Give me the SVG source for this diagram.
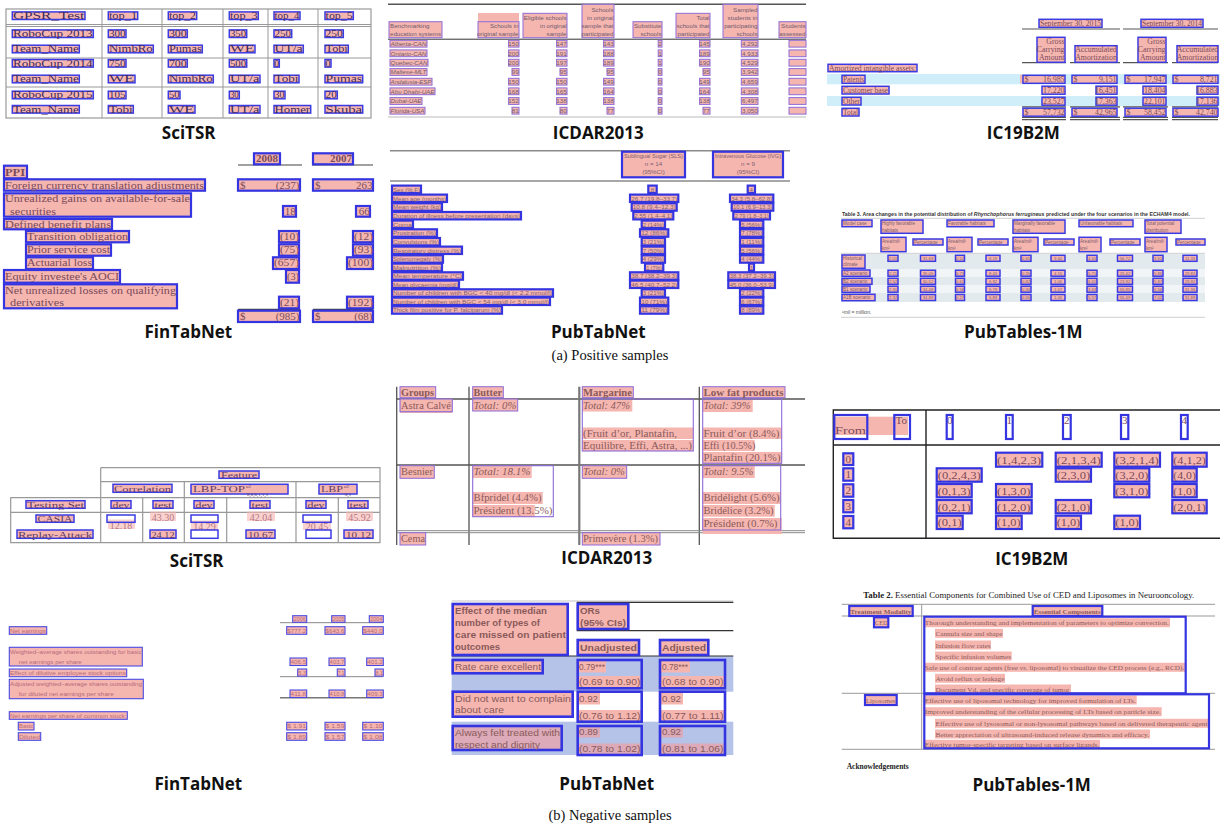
<svg xmlns="http://www.w3.org/2000/svg" width="1220" height="833" viewBox="0 0 1220 833">
<style>
.pk{fill:#f6b6b0}
.cb{fill:#f6b6b0;stroke:#3b3be3;stroke-width:1.5}
.cb2{fill:#f6b6b0;stroke:#3434e0;stroke-width:2.2}
.cf{fill:#f6b6b0;stroke:#4a4ae2;stroke-width:1.1}
.cp{fill:#f6b6b0;stroke:#8d6bd8;stroke-width:1}
.ob{fill:none;stroke:#3434e0;stroke-width:2.2}
.op{fill:none;stroke:#8d6bd8;stroke-width:1.1}
.wb{fill:#fff;stroke:#3b3be3;stroke-width:1.5}
.se{font-family:"Liberation Serif","Times New Roman",serif}
.sa{font-family:"Liberation Sans",Arial,sans-serif}
.lab{font-family:"Open Sans","Noto Sans",sans-serif;font-weight:bold;font-size:17px;fill:#111;text-anchor:middle}
.cap{font-family:"Liberation Serif","Times New Roman",serif;font-size:14.5px;fill:#111;text-anchor:middle}
.m{text-anchor:middle}
.e{text-anchor:end}
.i{font-style:italic}
.bd{font-weight:bold}
</style>
<rect width="1220" height="833" fill="#fff"/>

<!-- ===== (a) SciTSR ===== -->
<g id="pos-scitsr">
<rect x="6" y="9" width="365" height="109" fill="#fff" stroke="#999" stroke-width="1.2"/>
<path fill="none" stroke="#999" stroke-width="1" d="M6 24.5H371M6 26.5H371M6 58H371M6 87H371M102 9V118M162 9V118M223 9V118M268 9V118M318 9V118"/>
<g class="se" font-size="10.5" fill="#3e2a5e">
<rect class="cb" x="12.3" y="11.9" width="72.7" height="7.6"/><text x="12.9" y="19" textLength="71.5" lengthAdjust="spacingAndGlyphs">GPSR_Test</text>
<rect class="cb" x="108.3" y="11.9" width="29.4" height="7.6"/><text x="108.9" y="19" textLength="28.2" lengthAdjust="spacingAndGlyphs">top_1</text>
<rect class="cb" x="168.3" y="11.9" width="28.4" height="7.6"/><text x="168.9" y="19" textLength="27.2" lengthAdjust="spacingAndGlyphs">top_2</text>
<rect class="cb" x="229.3" y="11.9" width="29" height="7.6"/><text x="229.9" y="19" textLength="27.8" lengthAdjust="spacingAndGlyphs">top_3</text>
<rect class="cb" x="274" y="11.9" width="26" height="7.6"/><text x="274.6" y="19" textLength="24.8" lengthAdjust="spacingAndGlyphs">top_4</text>
<rect class="cb" x="325" y="11.9" width="28.3" height="7.6"/><text x="325.6" y="19" textLength="27.1" lengthAdjust="spacingAndGlyphs">top_5</text>

<rect class="cb" x="12.3" y="29.9" width="81" height="7.6"/><text x="12.9" y="37" textLength="79.8" lengthAdjust="spacingAndGlyphs">RoboCup 2013</text>
<rect class="cb" x="108.3" y="29.9" width="17.7" height="7.6"/><text x="108.9" y="37" textLength="16.5" lengthAdjust="spacingAndGlyphs">300</text>
<rect class="cb" x="168.3" y="29.9" width="19" height="7.6"/><text x="168.9" y="37" textLength="17.8" lengthAdjust="spacingAndGlyphs">300</text>
<rect class="cb" x="229.3" y="29.9" width="17.4" height="7.6"/><text x="229.9" y="37" textLength="16.2" lengthAdjust="spacingAndGlyphs">350</text>
<rect class="cb" x="274" y="29.9" width="17.7" height="7.6"/><text x="274.6" y="37" textLength="16.5" lengthAdjust="spacingAndGlyphs">250</text>
<rect class="cb" x="325" y="29.9" width="18.3" height="7.6"/><text x="325.6" y="37" textLength="17.1" lengthAdjust="spacingAndGlyphs">250</text>

<rect class="cb" x="12.3" y="45.2" width="67" height="7.6"/><text x="12.9" y="52.3" textLength="65.8" lengthAdjust="spacingAndGlyphs">Team_Name</text>
<rect class="cb" x="108.3" y="45.2" width="45" height="7.6"/><text x="108.9" y="52.3" textLength="43.8" lengthAdjust="spacingAndGlyphs">NimbRo</text>
<rect class="cb" x="168.3" y="45.2" width="34" height="7.6"/><text x="168.9" y="52.3" textLength="32.8" lengthAdjust="spacingAndGlyphs">Pumas</text>
<rect class="cb" x="229.3" y="45.2" width="25.7" height="7.6"/><text x="229.9" y="52.3" textLength="24.5" lengthAdjust="spacingAndGlyphs">WE</text>
<rect class="cb" x="274" y="45.2" width="29.3" height="7.6"/><text x="274.6" y="52.3" textLength="28.1" lengthAdjust="spacingAndGlyphs">UT/a</text>
<rect class="cb" x="325" y="45.2" width="23.3" height="7.6"/><text x="325.6" y="52.3" textLength="22.1" lengthAdjust="spacingAndGlyphs">Tobi</text>

<rect class="cb" x="12.3" y="59.5" width="81" height="7.6"/><text x="12.9" y="66.6" textLength="79.8" lengthAdjust="spacingAndGlyphs">RoboCup 2014</text>
<rect class="cb" x="108.3" y="59.5" width="17.7" height="7.6"/><text x="108.9" y="66.6" textLength="16.5" lengthAdjust="spacingAndGlyphs">750</text>
<rect class="cb" x="168.3" y="59.5" width="19" height="7.6"/><text x="168.9" y="66.6" textLength="17.8" lengthAdjust="spacingAndGlyphs">700</text>
<rect class="cb" x="229.3" y="59.5" width="17.4" height="7.6"/><text x="229.9" y="66.6" textLength="16.2" lengthAdjust="spacingAndGlyphs">500</text>
<rect class="cb" x="274" y="59.5" width="5.3" height="7.6"/><text x="274.4" y="66.6" textLength="4.5" lengthAdjust="spacingAndGlyphs">0</text>
<rect class="cb" x="325" y="59.5" width="6" height="7.6"/><text x="325.5" y="66.6" textLength="5" lengthAdjust="spacingAndGlyphs">0</text>

<rect class="cb" x="12.3" y="75.2" width="67" height="7.6"/><text x="12.9" y="82.3" textLength="65.8" lengthAdjust="spacingAndGlyphs">Team_Name</text>
<rect class="cb" x="108.3" y="75.2" width="26.7" height="7.6"/><text x="108.9" y="82.3" textLength="25.5" lengthAdjust="spacingAndGlyphs">WE</text>
<rect class="cb" x="168.3" y="75.2" width="45" height="7.6"/><text x="168.9" y="82.3" textLength="43.8" lengthAdjust="spacingAndGlyphs">NimbRo</text>
<rect class="cb" x="229.3" y="75.2" width="30.7" height="7.6"/><text x="229.9" y="82.3" textLength="29.5" lengthAdjust="spacingAndGlyphs">UT/a</text>
<rect class="cb" x="274" y="75.2" width="25" height="7.6"/><text x="274.6" y="82.3" textLength="23.8" lengthAdjust="spacingAndGlyphs">Tobi</text>
<rect class="cb" x="325" y="75.2" width="37.7" height="7.6"/><text x="325.6" y="82.3" textLength="36.5" lengthAdjust="spacingAndGlyphs">Pumas</text>

<rect class="cb" x="12.3" y="91.2" width="81" height="7.6"/><text x="12.9" y="98.3" textLength="79.8" lengthAdjust="spacingAndGlyphs">RoboCup 2015</text>
<rect class="cb" x="108.3" y="91.2" width="17.7" height="7.6"/><text x="108.9" y="98.3" textLength="16.5" lengthAdjust="spacingAndGlyphs">105</text>
<rect class="cb" x="168.3" y="91.2" width="11.7" height="7.6"/><text x="168.9" y="98.3" textLength="10.5" lengthAdjust="spacingAndGlyphs">50</text>
<rect class="cb" x="229.3" y="91.2" width="10" height="7.6"/><text x="229.9" y="98.3" textLength="8.8" lengthAdjust="spacingAndGlyphs">30</text>
<rect class="cb" x="274" y="91.2" width="11" height="7.6"/><text x="274.6" y="98.3" textLength="9.8" lengthAdjust="spacingAndGlyphs">30</text>
<rect class="cb" x="325" y="91.2" width="12.3" height="7.6"/><text x="325.6" y="98.3" textLength="11.1" lengthAdjust="spacingAndGlyphs">20</text>

<rect class="cb" x="12.3" y="105.5" width="67" height="7.6"/><text x="12.9" y="112.6" textLength="65.8" lengthAdjust="spacingAndGlyphs">Team_Name</text>
<rect class="cb" x="108.3" y="105.5" width="25" height="7.6"/><text x="108.9" y="112.6" textLength="23.8" lengthAdjust="spacingAndGlyphs">Tobi</text>
<rect class="cb" x="168.3" y="105.5" width="26.7" height="7.6"/><text x="168.9" y="112.6" textLength="25.5" lengthAdjust="spacingAndGlyphs">WE</text>
<rect class="cb" x="229.3" y="105.5" width="30.7" height="7.6"/><text x="229.9" y="112.6" textLength="29.5" lengthAdjust="spacingAndGlyphs">UT/a</text>
<rect class="cb" x="274" y="105.5" width="36.7" height="7.6"/><text x="274.6" y="112.6" textLength="35.5" lengthAdjust="spacingAndGlyphs">Homer</text>
<rect class="cb" x="325" y="105.5" width="37.7" height="7.6"/><text x="325.6" y="112.6" textLength="36.5" lengthAdjust="spacingAndGlyphs">Skuba</text>
</g>
</g>

<!-- ===== (a) ICDAR2013 ===== -->
<g id="pos-icdar2013">
<path d="M388 4.3H806" stroke="#555" stroke-width="1.6"/>
<path d="M388 39.2H806" stroke="#333" stroke-width="1"/>
<path d="M388 117H806" stroke="#bbb" stroke-width="1"/>
<g class="sa" font-size="6.2" fill="#6e5a6e">
<rect class="cp" x="389" y="21.7" width="53" height="16"/><text x="390" y="28">Benchmarking</text><text x="390" y="36.3" textLength="51" lengthAdjust="spacingAndGlyphs">education systems</text>
<rect class="pk" x="478" y="13" width="41" height="8.7"/>
<rect class="cp" x="478" y="21.7" width="41" height="16"/><text class="e" x="518.5" y="28">Schools in</text><text class="e" x="518.5" y="36.3">original sample</text>
<rect class="cp" x="523" y="13.3" width="44" height="24.4"/><text class="e" x="566.5" y="19.7">Eligible schools</text><text class="e" x="566.5" y="28">in original</text><text class="e" x="566.5" y="36.3">sample</text>
<rect class="cp" x="582" y="4.3" width="32" height="33.4"/><text class="e" x="613.5" y="11.5">Schools</text><text class="e" x="613.5" y="19.7">in original</text><text class="e" x="613.5" y="28">sample that</text><text class="e" x="613.5" y="36.3">participated</text>
<rect class="cp" x="633" y="21.7" width="29" height="16"/><text class="e" x="661.5" y="28">Substitute</text><text class="e" x="661.5" y="36.3">schools</text>
<rect class="cp" x="676" y="13.3" width="34" height="24.4"/><text class="e" x="709.5" y="19.7">Total</text><text class="e" x="709.5" y="28">schools that</text><text class="e" x="709.5" y="36.3">participated</text>
<rect class="cp" x="723" y="4.3" width="35" height="33.4"/><text class="e" x="757.5" y="11.5">Sampled</text><text class="e" x="757.5" y="19.7">students in</text><text class="e" x="757.5" y="28">participating</text><text class="e" x="757.5" y="36.3">schools</text>
<rect class="cp" x="779" y="21.7" width="27" height="16"/><text class="e" x="805.5" y="28">Students</text><text class="e" x="805.5" y="36.3">assessed</text>

<rect class="cp" x="390" y="40.3" width="37" height="6.8"/><text class="i" x="390.6" y="46" textLength="35.8" lengthAdjust="spacingAndGlyphs">Alberta-CAN</text>
<rect class="cp" x="390" y="49.9" width="37" height="6.8"/><text class="i" x="390.6" y="55.6" textLength="35.8" lengthAdjust="spacingAndGlyphs">Ontario-CAN</text>
<rect class="cp" x="390" y="59.3" width="38" height="6.8"/><text class="i" x="390.6" y="65" textLength="36.8" lengthAdjust="spacingAndGlyphs">Quebec-CAN</text>
<rect class="cp" x="390" y="68.6" width="37" height="6.8"/><text class="i" x="390.6" y="74.3" textLength="35.8" lengthAdjust="spacingAndGlyphs">Maltese-MLT</text>
<rect class="cp" x="390" y="78.3" width="42" height="6.8"/><text class="i" x="390.6" y="84" textLength="40.8" lengthAdjust="spacingAndGlyphs">Andalusia-ESP</text>
<rect class="cp" x="390" y="87.9" width="45" height="6.8"/><text class="i" x="390.6" y="93.6" textLength="43.8" lengthAdjust="spacingAndGlyphs">Abu Dhabi-UAE</text>
<rect class="cp" x="390" y="97.6" width="32" height="6.8"/><text class="i" x="390.6" y="103.3" textLength="30.8" lengthAdjust="spacingAndGlyphs">Dubai-UAE</text>
<rect class="cp" x="390" y="107.3" width="35" height="6.8"/><text class="i" x="390.6" y="113" textLength="33.8" lengthAdjust="spacingAndGlyphs">Florida-USA</text>

<rect class="cp" x="508.6" y="40.3" width="10.4" height="6.8"/><text class="e" x="518.6" y="46">150</text>
<rect class="cp" x="508.6" y="49.9" width="10.4" height="6.8"/><text class="e" x="518.6" y="55.6">200</text>
<rect class="cp" x="508.6" y="59.3" width="10.4" height="6.8"/><text class="e" x="518.6" y="65">200</text>
<rect class="cp" x="512" y="68.6" width="7" height="6.8"/><text class="e" x="518.6" y="74.3">99</text>
<rect class="cp" x="508.6" y="78.3" width="10.4" height="6.8"/><text class="e" x="518.6" y="84">150</text>
<rect class="cp" x="508.6" y="87.9" width="10.4" height="6.8"/><text class="e" x="518.6" y="93.6">168</text>
<rect class="cp" x="508.6" y="97.6" width="10.4" height="6.8"/><text class="e" x="518.6" y="103.3">152</text>
<rect class="cp" x="512" y="107.3" width="7" height="6.8"/><text class="e" x="518.6" y="113">81</text>

<rect class="cp" x="556.6" y="40.3" width="10.4" height="6.8"/><text class="e" x="566.6" y="46">147</text>
<rect class="cp" x="556.6" y="49.9" width="10.4" height="6.8"/><text class="e" x="566.6" y="55.6">191</text>
<rect class="cp" x="556.6" y="59.3" width="10.4" height="6.8"/><text class="e" x="566.6" y="65">197</text>
<rect class="cp" x="560" y="68.6" width="7" height="6.8"/><text class="e" x="566.6" y="74.3">95</text>
<rect class="cp" x="556.6" y="78.3" width="10.4" height="6.8"/><text class="e" x="566.6" y="84">150</text>
<rect class="cp" x="556.6" y="87.9" width="10.4" height="6.8"/><text class="e" x="566.6" y="93.6">165</text>
<rect class="cp" x="556.6" y="97.6" width="10.4" height="6.8"/><text class="e" x="566.6" y="103.3">138</text>
<rect class="cp" x="560" y="107.3" width="7" height="6.8"/><text class="e" x="566.6" y="113">80</text>

<rect class="cp" x="603.6" y="40.3" width="10.4" height="6.8"/><text class="e" x="613.6" y="46">143</text>
<rect class="cp" x="603.6" y="49.9" width="10.4" height="6.8"/><text class="e" x="613.6" y="55.6">188</text>
<rect class="cp" x="603.6" y="59.3" width="10.4" height="6.8"/><text class="e" x="613.6" y="65">189</text>
<rect class="cp" x="607" y="68.6" width="7" height="6.8"/><text class="e" x="613.6" y="74.3">95</text>
<rect class="cp" x="603.6" y="78.3" width="10.4" height="6.8"/><text class="e" x="613.6" y="84">149</text>
<rect class="cp" x="603.6" y="87.9" width="10.4" height="6.8"/><text class="e" x="613.6" y="93.6">164</text>
<rect class="cp" x="603.6" y="97.6" width="10.4" height="6.8"/><text class="e" x="613.6" y="103.3">138</text>
<rect class="cp" x="607" y="107.3" width="7" height="6.8"/><text class="e" x="613.6" y="113">77</text>

<rect class="cp" x="658.2" y="40.3" width="3.8" height="6.8"/><text class="e" x="661.8" y="46">2</text>
<rect class="cp" x="658.2" y="49.9" width="3.8" height="6.8"/><text class="e" x="661.8" y="55.6">1</text>
<rect class="cp" x="658.2" y="59.3" width="3.8" height="6.8"/><text class="e" x="661.8" y="65">1</text>
<rect class="cp" x="658.2" y="68.6" width="3.8" height="6.8"/><text class="e" x="661.8" y="74.3">0</text>
<rect class="cp" x="658.2" y="78.3" width="3.8" height="6.8"/><text class="e" x="661.8" y="84">0</text>
<rect class="cp" x="658.2" y="87.9" width="3.8" height="6.8"/><text class="e" x="661.8" y="93.6">0</text>
<rect class="cp" x="658.2" y="97.6" width="3.8" height="6.8"/><text class="e" x="661.8" y="103.3">0</text>
<rect class="cp" x="658.2" y="107.3" width="3.8" height="6.8"/><text class="e" x="661.8" y="113">0</text>

<rect class="cp" x="699.6" y="40.3" width="10.4" height="6.8"/><text class="e" x="709.6" y="46">145</text>
<rect class="cp" x="699.6" y="49.9" width="10.4" height="6.8"/><text class="e" x="709.6" y="55.6">189</text>
<rect class="cp" x="699.6" y="59.3" width="10.4" height="6.8"/><text class="e" x="709.6" y="65">190</text>
<rect class="cp" x="703" y="68.6" width="7" height="6.8"/><text class="e" x="709.6" y="74.3">95</text>
<rect class="cp" x="699.6" y="78.3" width="10.4" height="6.8"/><text class="e" x="709.6" y="84">149</text>
<rect class="cp" x="699.6" y="87.9" width="10.4" height="6.8"/><text class="e" x="709.6" y="93.6">164</text>
<rect class="cp" x="699.6" y="97.6" width="10.4" height="6.8"/><text class="e" x="709.6" y="103.3">138</text>
<rect class="cp" x="703" y="107.3" width="7" height="6.8"/><text class="e" x="709.6" y="113">77</text>

<rect class="cp" x="741.3" y="40.3" width="16.7" height="6.8"/><text class="e" x="757.6" y="46">4,292</text>
<rect class="cp" x="741.3" y="49.9" width="16.7" height="6.8"/><text class="e" x="757.6" y="55.6">4,933</text>
<rect class="cp" x="741.3" y="59.3" width="16.7" height="6.8"/><text class="e" x="757.6" y="65">4,529</text>
<rect class="cp" x="741.3" y="68.6" width="16.7" height="6.8"/><text class="e" x="757.6" y="74.3">3,942</text>
<rect class="cp" x="741.3" y="78.3" width="16.7" height="6.8"/><text class="e" x="757.6" y="84">4,659</text>
<rect class="cp" x="741.3" y="87.9" width="16.7" height="6.8"/><text class="e" x="757.6" y="93.6">4,308</text>
<rect class="cp" x="741.3" y="97.6" width="16.7" height="6.8"/><text class="e" x="757.6" y="103.3">6,497</text>
<rect class="cp" x="741.3" y="107.3" width="16.7" height="6.8"/><text class="e" x="757.6" y="113">3,050</text>

<rect class="cp" x="789" y="40.3" width="17" height="6.8"/>
<rect class="cp" x="789" y="49.9" width="17" height="6.8"/>
<rect class="cp" x="789" y="59.3" width="17" height="6.8"/>
<rect class="cp" x="789" y="68.6" width="17" height="6.8"/>
<rect class="cp" x="789" y="78.3" width="17" height="6.8"/>
<rect class="cp" x="789" y="87.9" width="17" height="6.8"/>
<rect class="cp" x="789" y="97.6" width="17" height="6.8"/>
<rect class="cp" x="789" y="107.3" width="17" height="6.8"/>
</g>
</g>

<!-- ===== (a) IC19B2M ===== -->
<g id="pos-ic19b2m">
<rect x="827" y="74" width="393" height="10.3" fill="#cfeefa"/>
<rect x="827" y="96" width="393" height="10" fill="#cfeefa"/>
<path fill="none" stroke="#555" stroke-width="1.2" d="M1022 29H1120M1123 29H1218M1022 62.7H1066M1070 62.7H1120M1123 62.7H1168M1172 62.7H1218M1022 106.8H1066M1070 106.8H1120M1123 106.8H1168M1172 106.8H1218M1022 117.4H1066M1070 117.4H1120M1123 117.4H1168M1172 117.4H1218M1022 119.6H1066M1070 119.6H1120M1123 119.6H1168M1172 119.6H1218"/>
<g class="se" font-size="7.8" fill="#7a4a5a">
<rect class="cb" x="1039" y="19.3" width="63" height="8"/><text class="m" x="1070.5" y="25.8" textLength="61" lengthAdjust="spacingAndGlyphs">September 30, 2015</text>
<rect class="cb" x="1141" y="19.3" width="62" height="8"/><text class="m" x="1172" y="25.8" textLength="60" lengthAdjust="spacingAndGlyphs">September 30, 2014</text>
<rect class="cb" x="1037" y="37.3" width="28" height="25"/><text class="e" x="1064.5" y="43.8">Gross</text><text class="e" x="1064.5" y="52">Carrying</text><text class="e" x="1064.5" y="60.2">Amount</text>
<rect class="cb" x="1075" y="45.7" width="42" height="16.6"/><text class="m" x="1096" y="52">Accumulated</text><text class="m" x="1096" y="60.2">Amortization</text>
<rect class="cb" x="1138" y="37.3" width="28" height="25"/><text class="e" x="1165.5" y="43.8">Gross</text><text class="e" x="1165.5" y="52">Carrying</text><text class="e" x="1165.5" y="60.2">Amount</text>
<rect class="cb" x="1177" y="45.7" width="41" height="16.6"/><text class="m" x="1197.5" y="52">Accumulated</text><text class="m" x="1197.5" y="60.2">Amortization</text>
<rect class="cb" x="828" y="64.3" width="89" height="7.4"/><text x="829" y="70.5" textLength="87" lengthAdjust="spacingAndGlyphs">Amortized intangible assets:</text>
<rect class="cb" x="842" y="75.3" width="23" height="8"/><text x="843" y="81.8" textLength="21" lengthAdjust="spacingAndGlyphs">Patents</text>
<rect class="cb" x="842" y="86.3" width="47" height="7.7"/><text x="843" y="92.6" textLength="45" lengthAdjust="spacingAndGlyphs">Customer base</text>
<rect class="cb" x="842" y="97.3" width="19" height="7.7"/><text x="843" y="103.6" textLength="17" lengthAdjust="spacingAndGlyphs">Other</text>
<rect class="cb" x="842" y="108.3" width="17" height="7.7"/><text x="843" y="114.6" textLength="15" lengthAdjust="spacingAndGlyphs">Total</text>

<rect class="pk" x="1020" y="74.8" width="5" height="8.5"/>
<rect class="cb" x="1023" y="75.3" width="42" height="8"/><text x="1024.5" y="81.8">$</text><text class="e" x="1064.5" y="81.8">16,985</text>
<rect class="cb" x="1072" y="75.3" width="45" height="8"/><text x="1073.5" y="81.8">$</text><text class="e" x="1116.5" y="81.8">9,151</text>
<rect class="cb" x="1125" y="75.3" width="41" height="8"/><text x="1126.5" y="81.8">$</text><text class="e" x="1165.5" y="81.8">17,947</text>
<rect class="cb" x="1173" y="75.3" width="45" height="8"/><text x="1174.5" y="81.8">$</text><text class="e" x="1217.5" y="81.8">8,721</text>

<rect class="cb" x="1042" y="86.2" width="23" height="8"/><text class="e" x="1064.5" y="92.7">17,220</text>
<rect class="cb" x="1096" y="86.2" width="21" height="8"/><text class="e" x="1116.5" y="92.7">16,451</text>
<rect class="cb" x="1143" y="86.2" width="23" height="8"/><text class="e" x="1165.5" y="92.7">18,404</text>
<rect class="cb" x="1197" y="86.2" width="21" height="8"/><text class="e" x="1217.5" y="92.7">16,883</text>

<rect class="cb" x="1042" y="97.2" width="23" height="8"/><text class="e" x="1064.5" y="103.7">23,527</text>
<rect class="cb" x="1096" y="97.2" width="21" height="8"/><text class="e" x="1116.5" y="103.7">17,363</text>
<rect class="cb" x="1143" y="97.2" width="23" height="8"/><text class="e" x="1165.5" y="103.7">22,101</text>
<rect class="cb" x="1197" y="97.2" width="21" height="8"/><text class="e" x="1217.5" y="103.7">17,136</text>

<rect class="cb" x="1023" y="108.2" width="42" height="8"/><text x="1024.5" y="114.7">$</text><text class="e" x="1064.5" y="114.7">57,732</text>
<rect class="cb" x="1072" y="108.2" width="45" height="8"/><text x="1073.5" y="114.7">$</text><text class="e" x="1116.5" y="114.7">42,965</text>
<rect class="cb" x="1125" y="108.2" width="41" height="8"/><text x="1126.5" y="114.7">$</text><text class="e" x="1165.5" y="114.7">58,452</text>
<rect class="cb" x="1173" y="108.2" width="45" height="8"/><text x="1174.5" y="114.7">$</text><text class="e" x="1217.5" y="114.7">42,740</text>
</g>
</g>

<!-- ===== (a) FinTabNet ===== -->
<g id="pos-fintabnet">
<path fill="none" stroke="#444" stroke-width="1.2" d="M238 165H302M312 165H373M238 309.3H300M313 309.3H373"/>
<g class="se" font-size="11" fill="#7a4a5a">
<rect class="cb2" x="254" y="153.3" width="26" height="11"/><text class="m bd" x="267" y="162.3" textLength="22" lengthAdjust="spacingAndGlyphs">2008</text>
<rect class="cb2" x="313" y="153.3" width="40" height="11"/><text class="e bd" x="352" y="162.3" textLength="22" lengthAdjust="spacingAndGlyphs">2007</text>
<rect class="cb2" x="4" y="165.7" width="23" height="12.6"/><text class="bd" x="5" y="176" textLength="20" lengthAdjust="spacingAndGlyphs">PPI</text>
<rect class="cb2" x="4" y="179.3" width="201" height="11.4"/><text x="5" y="188.6" textLength="199" lengthAdjust="spacingAndGlyphs">Foreign currency translation adjustments</text>
<rect class="cb2" x="4" y="193.3" width="187" height="23.4"/><text x="5" y="202" textLength="185" lengthAdjust="spacingAndGlyphs">Unrealized gains on available-for-sale</text><text x="10" y="214.5" textLength="46" lengthAdjust="spacingAndGlyphs">securities</text>
<rect class="cb2" x="4" y="219" width="108" height="10.3"/><text x="5" y="227.6" textLength="106" lengthAdjust="spacingAndGlyphs">Defined benefit plans</text>
<rect class="cb2" x="26" y="231" width="103" height="11.3"/><text x="27" y="240.2" textLength="101" lengthAdjust="spacingAndGlyphs">Transition obligation</text>
<rect class="cb2" x="26" y="244.3" width="85" height="11.4"/><text x="27" y="253.3" textLength="83" lengthAdjust="spacingAndGlyphs">Prior service cost</text>
<rect class="cb2" x="26" y="257.3" width="67" height="11.7"/><text x="27" y="266.4" textLength="65" lengthAdjust="spacingAndGlyphs">Actuarial loss</text>
<rect class="cb2" x="4" y="270" width="116" height="12.7"/><text x="5" y="279.8" textLength="114" lengthAdjust="spacingAndGlyphs">Equity investee's AOCI</text>
<rect class="cb2" x="4" y="284.3" width="173" height="24"/><text x="5" y="293.5" textLength="171" lengthAdjust="spacingAndGlyphs">Net unrealized losses on qualifying</text><text x="10" y="306" textLength="54" lengthAdjust="spacingAndGlyphs">derivatives</text>

<rect class="cb2" x="238" y="179.3" width="62" height="11.4"/><text x="240" y="188.6">$</text><text class="e" x="299.5" y="188.6">(237)</text>
<rect class="cb2" x="313" y="179.3" width="60" height="11.4"/><text x="315" y="188.6">$</text><text class="e" x="372.5" y="188.6">263</text>
<rect class="cb2" x="283" y="206" width="13" height="10.7"/><text class="e" x="295.8" y="214.6">18</text>
<rect class="cb2" x="356" y="206" width="14" height="10.7"/><text class="e" x="369.8" y="214.6">66</text>
<rect class="cb2" x="279" y="231" width="20" height="11.3"/><text class="e" x="299" y="240.2" textLength="19" lengthAdjust="spacingAndGlyphs">(10)</text>
<rect class="cb2" x="353" y="231" width="20" height="11.3"/><text class="e" x="373" y="240.2" textLength="19" lengthAdjust="spacingAndGlyphs">(12)</text>
<rect class="cb2" x="279" y="244.3" width="20" height="11.4"/><text class="e" x="299" y="253.3" textLength="19" lengthAdjust="spacingAndGlyphs">(75)</text>
<rect class="cb2" x="353" y="244.3" width="20" height="11.4"/><text class="e" x="373" y="253.3" textLength="19" lengthAdjust="spacingAndGlyphs">(93)</text>
<rect class="cb2" x="273" y="257.3" width="26" height="11.7"/><text class="e" x="299" y="266.4" textLength="25" lengthAdjust="spacingAndGlyphs">(657)</text>
<rect class="cb2" x="347" y="257.3" width="26" height="11.7"/><text class="e" x="373" y="266.4" textLength="25" lengthAdjust="spacingAndGlyphs">(100)</text>
<rect class="cb2" x="286" y="270" width="13" height="12.7"/><text class="e" x="299" y="279.8" textLength="12" lengthAdjust="spacingAndGlyphs">(3)</text>
<rect class="cb2" x="279" y="296.7" width="20" height="11.6"/><text class="e" x="299" y="306" textLength="19" lengthAdjust="spacingAndGlyphs">(21)</text>
<rect class="cb2" x="347" y="296.7" width="26" height="11.6"/><text class="e" x="373" y="306" textLength="25" lengthAdjust="spacingAndGlyphs">(192)</text>
<rect class="cb2" x="238" y="310.7" width="62" height="11.3"/><text x="240" y="319.8">$</text><text class="e" x="299.5" y="319.8">(985)</text>
<rect class="cb2" x="313" y="310.7" width="60" height="11.3"/><text x="315" y="319.8">$</text><text class="e" x="372.5" y="319.8">(68)</text>
</g>
</g>

<!-- ===== (a) PubTabNet ===== -->
<g id="pos-pubtabnet">
<path fill="none" stroke="#8a8a8a" stroke-width="1.6" d="M390 150.7H790M390 181H790"/>
<g class="sa" font-size="6.2" fill="#806070">
<rect class="cb2" x="622" y="151.7" width="63" height="25.6"/><text class="m" x="653.5" y="157.8" textLength="59" lengthAdjust="spacingAndGlyphs">Sublingual Sugar (SLS)</text><text class="m" x="653.5" y="165.5">n = 14</text><text class="m" x="653.5" y="173.5">(95%CI)</text>
<rect class="cb2" x="713" y="151.7" width="70" height="25.6"/><text class="m" x="748" y="157.8" textLength="66" lengthAdjust="spacingAndGlyphs">Intravenous Glucose (IVG)</text><text class="m" x="748" y="165.5">n = 9</text><text class="m" x="748" y="173.5">(95%CI)</text>

<rect class="cb2" x="392" y="185.6" width="29" height="7.4"/><text x="393" y="191.5" textLength="27" lengthAdjust="spacingAndGlyphs">Sex (% F)</text>
<rect class="cb2" x="392" y="194.6" width="55" height="7.4"/><text x="393" y="200.5" textLength="53" lengthAdjust="spacingAndGlyphs">Mean age (months)</text>
<rect class="cb2" x="392" y="203.3" width="50" height="7.4"/><text x="393" y="209.2" textLength="48" lengthAdjust="spacingAndGlyphs">Mean weight (kg)</text>
<rect class="cb2" x="392" y="212" width="129" height="7.4"/><text x="393" y="217.9" textLength="127" lengthAdjust="spacingAndGlyphs">Duration of illness before presentation (days)</text>
<rect class="cb2" x="392" y="220.6" width="21" height="7.4"/><text x="393" y="226.5" textLength="19" lengthAdjust="spacingAndGlyphs">Coma</text>
<rect class="cb2" x="392" y="229.3" width="45" height="7.4"/><text x="393" y="235.2" textLength="43" lengthAdjust="spacingAndGlyphs">Prostration (%)</text>
<rect class="cb2" x="392" y="238" width="48" height="7.4"/><text x="393" y="243.9" textLength="46" lengthAdjust="spacingAndGlyphs">Convulsions (%)</text>
<rect class="cb2" x="392" y="246.6" width="70" height="7.4"/><text x="393" y="252.5" textLength="68" lengthAdjust="spacingAndGlyphs">Respiratory distress (%)</text>
<rect class="cb2" x="392" y="255.3" width="51" height="7.4"/><text x="393" y="261.2" textLength="49" lengthAdjust="spacingAndGlyphs">Splenomegaly (%)</text>
<rect class="cb2" x="392" y="263.6" width="50" height="7.4"/><text x="393" y="269.5" textLength="48" lengthAdjust="spacingAndGlyphs">Malnutrition (%)</text>
<rect class="cb2" x="392" y="272.3" width="71" height="7.4"/><text x="393" y="278.2" textLength="69" lengthAdjust="spacingAndGlyphs">Mean temperature (°C)</text>
<rect class="cb2" x="392" y="280.6" width="67" height="7.4"/><text x="393" y="286.5" textLength="65" lengthAdjust="spacingAndGlyphs">Mean glycaemia (mg/dl)</text>
<rect class="cb2" x="392" y="289.3" width="161" height="7.4"/><text x="393" y="295.2" textLength="159" lengthAdjust="spacingAndGlyphs">Number of children with BGC &lt; 40 mg/dl (&lt; 2.2 mmol/l)</text>
<rect class="cb2" x="392" y="297.6" width="158" height="7.4"/><text x="393" y="303.5" textLength="156" lengthAdjust="spacingAndGlyphs">Number of children with BGC &lt; 54 mg/dl (&lt; 3.0 mmol/l)</text>
<rect class="cb2" x="392" y="306.3" width="110" height="7.4"/><text x="393" y="312.2" textLength="108" lengthAdjust="spacingAndGlyphs">Thick film positive for P. falciparum (%)</text>

<rect class="cb2" x="648.3" y="185.6" width="8.4" height="7.4"/><text class="m" x="652.5" y="191.5">8</text>
<rect class="cb2" x="630" y="194.6" width="48.3" height="7.4"/><text class="m" x="654.2" y="200.5" textLength="46" lengthAdjust="spacingAndGlyphs">26.7 (19.8–33.7)</text>
<rect class="cb2" x="631.7" y="203.3" width="45" height="7.4"/><text class="m" x="654.2" y="209.2" textLength="43" lengthAdjust="spacingAndGlyphs">10.8 (9.4–12.3)</text>
<rect class="cb2" x="633.3" y="212" width="40" height="7.4"/><text class="m" x="653.3" y="217.9" textLength="38" lengthAdjust="spacingAndGlyphs">2.55 (1.4–4.1)</text>
<rect class="cb2" x="641.7" y="220.6" width="23.3" height="7.4"/><text class="m" x="653.3" y="226.5" textLength="21" lengthAdjust="spacingAndGlyphs">2 (14%)</text>
<rect class="cb2" x="640" y="229.3" width="28.3" height="7.4"/><text class="m" x="654.2" y="235.2" textLength="26" lengthAdjust="spacingAndGlyphs">12 (86%)</text>
<rect class="cb2" x="641.7" y="238" width="23.3" height="7.4"/><text class="m" x="653.3" y="243.9" textLength="21" lengthAdjust="spacingAndGlyphs">3 (21%)</text>
<rect class="cb2" x="641.7" y="246.6" width="23.3" height="7.4"/><text class="m" x="653.3" y="252.5" textLength="21" lengthAdjust="spacingAndGlyphs">7 (50%)</text>
<rect class="cb2" x="641.7" y="255.3" width="23.3" height="7.4"/><text class="m" x="653.3" y="261.2" textLength="21" lengthAdjust="spacingAndGlyphs">4 (29%)</text>
<rect class="cb2" x="645" y="263.6" width="18.3" height="7.4"/><text class="m" x="654.2" y="269.5" textLength="16" lengthAdjust="spacingAndGlyphs">1 (7%)</text>
<rect class="cb2" x="630" y="272.3" width="48.3" height="7.4"/><text class="m" x="654.2" y="278.2" textLength="46" lengthAdjust="spacingAndGlyphs">38.7 (38.2–39.3)</text>
<rect class="cb2" x="630" y="280.6" width="48.3" height="7.4"/><text class="m" x="654.2" y="286.5" textLength="46" lengthAdjust="spacingAndGlyphs">46.5 (40.7–52.2)</text>
<rect class="cb2" x="641.7" y="289.3" width="23.3" height="7.4"/><text class="m" x="653.3" y="295.2" textLength="21" lengthAdjust="spacingAndGlyphs">3 (21%)</text>
<rect class="cb2" x="640" y="297.6" width="28.3" height="7.4"/><text class="m" x="654.2" y="303.5" textLength="26" lengthAdjust="spacingAndGlyphs">10 (71%)</text>
<rect class="cb2" x="640" y="306.3" width="28.3" height="7.4"/><text class="m" x="654.2" y="312.2" textLength="26" lengthAdjust="spacingAndGlyphs">11 (79%)</text>

<rect class="cb2" x="747.7" y="185.6" width="7.3" height="7.4"/><text class="m" x="751.3" y="191.5">4</text>
<rect class="cb2" x="730" y="194.6" width="43.3" height="7.4"/><text class="m" x="751.7" y="200.5" textLength="41" lengthAdjust="spacingAndGlyphs">34.3 (5.8–62.8)</text>
<rect class="cb2" x="731.7" y="203.3" width="41.6" height="7.4"/><text class="m" x="752.5" y="209.2" textLength="39" lengthAdjust="spacingAndGlyphs">10.1 (6.9–13.3)</text>
<rect class="cb2" x="733.3" y="212" width="36.7" height="7.4"/><text class="m" x="751.7" y="217.9" textLength="34" lengthAdjust="spacingAndGlyphs">2.79 (1.8–3.1)</text>
<rect class="cb2" x="740" y="220.6" width="23.3" height="7.4"/><text class="m" x="751.7" y="226.5" textLength="21" lengthAdjust="spacingAndGlyphs">5 (56%)</text>
<rect class="cb2" x="740" y="229.3" width="23.3" height="7.4"/><text class="m" x="751.7" y="235.2" textLength="21" lengthAdjust="spacingAndGlyphs">7 (78%)</text>
<rect class="cb2" x="740" y="238" width="23.3" height="7.4"/><text class="m" x="751.7" y="243.9" textLength="21" lengthAdjust="spacingAndGlyphs">1 (11%)</text>
<rect class="cb2" x="740" y="246.6" width="23.3" height="7.4"/><text class="m" x="751.7" y="252.5" textLength="21" lengthAdjust="spacingAndGlyphs">5 (56%)</text>
<rect class="cb2" x="740" y="255.3" width="23.3" height="7.4"/><text class="m" x="751.7" y="261.2" textLength="21" lengthAdjust="spacingAndGlyphs">4 (44%)</text>
<rect class="cb2" x="749" y="263.6" width="5" height="7.4"/><text class="m" x="751.5" y="269.5">1</text>
<rect class="cb2" x="728.3" y="272.3" width="46.7" height="7.4"/><text class="m" x="751.7" y="278.2" textLength="44" lengthAdjust="spacingAndGlyphs">38.3 (37.2–39.3)</text>
<rect class="cb2" x="728.3" y="280.6" width="46.7" height="7.4"/><text class="m" x="751.7" y="286.5" textLength="44" lengthAdjust="spacingAndGlyphs">45.0 (36.0–53.9)</text>
<rect class="cb2" x="740" y="289.3" width="23.3" height="7.4"/><text class="m" x="751.7" y="295.2" textLength="21" lengthAdjust="spacingAndGlyphs">2 (22%)</text>
<rect class="cb2" x="740" y="297.6" width="23.3" height="7.4"/><text class="m" x="751.7" y="303.5" textLength="21" lengthAdjust="spacingAndGlyphs">6 (67%)</text>
<rect class="cb2" x="740" y="306.3" width="23.3" height="7.4"/><text class="m" x="751.7" y="312.2" textLength="21" lengthAdjust="spacingAndGlyphs">8 (89%)</text>
</g>
</g>

<!-- ===== (a) PubTables-1M ===== -->
<g id="pos-pubtables1m">
<rect x="841" y="254" width="364" height="15" fill="#e3eaee"/>
<rect x="841" y="269" width="364" height="8" fill="#f2f5f7"/>
<rect x="841" y="277" width="364" height="8" fill="#e3eaee"/>
<rect x="841" y="285" width="364" height="8" fill="#f2f5f7"/>
<rect x="841" y="293" width="364" height="9" fill="#e3eaee"/>
<path fill="none" stroke="#cfcfcf" stroke-width="1" d="M841 218.3H1205M841 253.3H1205M841 317.3H1205"/>
<text class="sa bd" x="842" y="215.5" font-size="5.3" fill="#333" textLength="348" lengthAdjust="spacingAndGlyphs">Table 3.  Area changes in the potential distribution of <tspan font-style="italic">Rhynchophorus ferrugineus</tspan> predicted under the four scenarios in the ECHAM4 model.</text>
<g class="sa" font-size="4.6" fill="#7a5a6a">
<rect class="cb" x="842" y="220" width="30" height="6.7"/><text x="843" y="225.2">Model case</text>
<rect class="cb" x="881" y="220" width="42" height="13.3"/><text x="882" y="225.2">Highly favorable</text><text x="882" y="231.7">habitats</text>
<rect class="cb" x="947" y="220" width="47" height="6.7"/><text x="948" y="225.2">Favorable habitats</text>
<rect class="cb" x="1013" y="220" width="52" height="13.3"/><text x="1014" y="225.2">Marginally favorable</text><text x="1014" y="231.7">habitats</text>
<rect class="cb" x="1079" y="220" width="54" height="6.7"/><text x="1080" y="225.2">Unfavorable habitats</text>
<rect class="cb" x="1145" y="220" width="36" height="13.3"/><text x="1146" y="225.2">Total potential</text><text x="1146" y="231.7">distribution</text>

<rect class="cb" x="881" y="237.3" width="25" height="14.4"/><text x="882" y="242.5">Area/mil¹</text><text x="882" y="249.5">km²</text>
<rect class="cb" x="947" y="237.3" width="25" height="14.4"/><text x="948" y="242.5">Area/mil¹</text><text x="948" y="249.5">km²</text>
<rect class="cb" x="1013" y="237.3" width="25" height="14.4"/><text x="1014" y="242.5">Area/mil¹</text><text x="1014" y="249.5">km²</text>
<rect class="cb" x="1079" y="237.3" width="22" height="14.4"/><text x="1080" y="242.5">Area/mil¹</text><text x="1080" y="249.5">km²</text>
<rect class="cb" x="1145" y="237.3" width="22" height="14.4"/><text x="1146" y="242.5">Area/mil¹</text><text x="1146" y="249.5">km²</text>
<rect class="cb" x="913" y="239" width="30" height="6"/><text x="914" y="243.8">Percentage</text>
<rect class="cb" x="978" y="239" width="30" height="6"/><text x="979" y="243.8">Percentage</text>
<rect class="cb" x="1044" y="239" width="30" height="6"/><text x="1045" y="243.8">Percentage</text>
<rect class="cb" x="1110" y="239" width="30" height="6"/><text x="1111" y="243.8">Percentage</text>
<rect class="cb" x="1176" y="239" width="29" height="6"/><text x="1177" y="243.8">Percentage</text>

<rect class="cb" x="842" y="255" width="23" height="13.3"/><text x="843" y="259.8">Historical</text><text x="843" y="266.3">climate</text>
<rect class="cb" x="842" y="270" width="28" height="6.3"/><text x="843" y="275">A2 scenario</text>
<rect class="cb" x="842" y="278.3" width="30" height="6"/><text x="843" y="283">B2 scenario</text>
<rect class="cb" x="842" y="286" width="28" height="6.3"/><text x="843" y="291">B1 scenario</text>
<rect class="cb" x="842" y="294.3" width="33" height="6.4"/><text x="843" y="299.3">A1B scenario</text>
</g>
<g class="sa m" font-size="4.2" fill="#7a5a6a">
<rect class="cb" x="888" y="255.3" width="10" height="6"/><text x="893" y="260">2.01</text>
<rect class="cb" x="920.5" y="255.3" width="15" height="6"/><text x="928" y="260">31.69</text>
<rect class="cb" x="955.5" y="255.3" width="9" height="6"/><text x="960" y="260">0.52</text>
<rect class="cb" x="986" y="255.3" width="14" height="6"/><text x="993" y="260">8.19</text>
<rect class="cb" x="1021" y="255.3" width="10" height="6"/><text x="1026" y="260">0.65</text>
<rect class="cb" x="1051" y="255.3" width="14" height="6"/><text x="1058" y="260">9.40</text>
<rect class="cb" x="1087" y="255.3" width="10" height="6"/><text x="1092" y="260">4.65</text>
<rect class="cb" x="1117.5" y="255.3" width="15" height="6"/><text x="1125" y="260">56.72</text>
<rect class="cb" x="1153" y="255.3" width="10" height="6"/><text x="1158" y="260">3.61</text>
<rect class="cb" x="1183" y="255.3" width="14" height="6"/><text x="1190" y="260">11.33</text>

<rect class="cb" x="888" y="270.2" width="10" height="6"/><text x="893" y="274.9">2.21</text>
<rect class="cb" x="920.5" y="270.2" width="15" height="6"/><text x="928" y="274.9">35.05</text>
<rect class="cb" x="955.5" y="270.2" width="9" height="6"/><text x="960" y="274.9">0.73</text>
<rect class="cb" x="986" y="270.2" width="14" height="6"/><text x="993" y="274.9">8.43</text>
<rect class="cb" x="1021" y="270.2" width="10" height="6"/><text x="1026" y="274.9">0.35</text>
<rect class="cb" x="1051" y="270.2" width="14" height="6"/><text x="1058" y="274.9">4.15</text>
<rect class="cb" x="1087" y="270.2" width="10" height="6"/><text x="1092" y="274.9">5.71</text>
<rect class="cb" x="1117.5" y="270.2" width="15" height="6"/><text x="1125" y="274.9">25.42</text>
<rect class="cb" x="1153" y="270.2" width="10" height="6"/><text x="1158" y="274.9">5.86</text>
<rect class="cb" x="1183" y="270.2" width="14" height="6"/><text x="1190" y="274.9">29.83</text>

<rect class="cb" x="888" y="278.3" width="10" height="6"/><text x="893" y="283">2.52</text>
<rect class="cb" x="920.5" y="278.3" width="15" height="6"/><text x="928" y="283">30.52</text>
<rect class="cb" x="955.5" y="278.3" width="9" height="6"/><text x="960" y="283">0.61</text>
<rect class="cb" x="986" y="278.3" width="14" height="6"/><text x="993" y="283">6.92</text>
<rect class="cb" x="1021" y="278.3" width="10" height="6"/><text x="1026" y="283">0.82</text>
<rect class="cb" x="1051" y="278.3" width="14" height="6"/><text x="1058" y="283">1.06</text>
<rect class="cb" x="1087" y="278.3" width="10" height="6"/><text x="1092" y="283">6.61</text>
<rect class="cb" x="1117.5" y="278.3" width="15" height="6"/><text x="1125" y="283">23.92</text>
<rect class="cb" x="1153" y="278.3" width="10" height="6"/><text x="1158" y="283">5.87</text>
<rect class="cb" x="1183" y="278.3" width="14" height="6"/><text x="1190" y="283">29.92</text>

<rect class="cb" x="888" y="286.2" width="10" height="6"/><text x="893" y="290.9">2.30</text>
<rect class="cb" x="920.5" y="286.2" width="15" height="6"/><text x="928" y="290.9">34.48</text>
<rect class="cb" x="955.5" y="286.2" width="9" height="6"/><text x="960" y="290.9">0.58</text>
<rect class="cb" x="986" y="286.2" width="14" height="6"/><text x="993" y="290.9">6.79</text>
<rect class="cb" x="1021" y="286.2" width="10" height="6"/><text x="1026" y="290.9">0.30</text>
<rect class="cb" x="1051" y="286.2" width="14" height="6"/><text x="1058" y="290.9">1.07</text>
<rect class="cb" x="1087" y="286.2" width="10" height="6"/><text x="1092" y="290.9">3.63</text>
<rect class="cb" x="1117.5" y="286.2" width="15" height="6"/><text x="1125" y="290.9">55.85</text>
<rect class="cb" x="1153" y="286.2" width="10" height="6"/><text x="1158" y="290.9">6.56</text>
<rect class="cb" x="1183" y="286.2" width="14" height="6"/><text x="1190" y="290.9">31.36</text>

<rect class="cb" x="888" y="294.5" width="10" height="6"/><text x="893" y="299.2">2.32</text>
<rect class="cb" x="920.5" y="294.5" width="15" height="6"/><text x="928" y="299.2">34.89</text>
<rect class="cb" x="955.5" y="294.5" width="9" height="6"/><text x="960" y="299.2">0.27</text>
<rect class="cb" x="986" y="294.5" width="14" height="6"/><text x="993" y="299.2">5.89</text>
<rect class="cb" x="1021" y="294.5" width="10" height="6"/><text x="1026" y="299.2">0.65</text>
<rect class="cb" x="1051" y="294.5" width="14" height="6"/><text x="1058" y="299.2">1.05</text>
<rect class="cb" x="1087" y="294.5" width="10" height="6"/><text x="1092" y="299.2">5.57</text>
<rect class="cb" x="1117.5" y="294.5" width="15" height="6"/><text x="1125" y="299.2">55.49</text>
<rect class="cb" x="1153" y="294.5" width="10" height="6"/><text x="1158" y="299.2">7.02</text>
<rect class="cb" x="1183" y="294.5" width="14" height="6"/><text x="1190" y="299.2">31.89</text>
</g>
<text class="sa" x="842" y="314" font-size="5" fill="#555">¹mil = million.</text>
</g>

<!-- ===== (b) SciTSR ===== -->
<g id="neg-scitsr">
<path fill="none" stroke="#999" stroke-width="1.2" d="M100.7 467.7H380V542.7H10.7V497.7H380M100.7 467.7V542.7M100.7 481.7H380M184.3 481.7V542.7M296 481.7V542.7M142.7 497.7V542.7M226.7 497.7V542.7M338.3 497.7V542.7M10.7 512.3H380"/>
<g class="se" font-size="9" fill="#5e3a66">
<rect class="cb" x="219" y="471" width="40" height="7.3"/><text class="m" x="239" y="477.8" textLength="36" lengthAdjust="spacingAndGlyphs">Feature</text>
<rect class="cb" x="113" y="484.3" width="59" height="8"/><text x="114" y="492" textLength="57" lengthAdjust="spacingAndGlyphs">Correlation</text>
<rect class="cb" x="191" y="484.3" width="97" height="9.7"/><text x="193" y="492" textLength="52" lengthAdjust="spacingAndGlyphs">LBP-TOP</text><text x="246" y="488" font-size="5">u2</text><text x="247" y="495.5" font-size="5">8,8,8,1,1,1</text>
<rect class="cb" x="319" y="484.3" width="38" height="9.7"/><text x="321" y="492" textLength="22" lengthAdjust="spacingAndGlyphs">LBP</text><text x="344" y="488" font-size="5">u2</text><text x="345" y="495.5" font-size="5">8,1</text>
<rect class="cb" x="26" y="500.7" width="59" height="7.6"/><text x="27" y="508" textLength="57" lengthAdjust="spacingAndGlyphs">Testing Set</text>
<rect class="cb" x="111" y="500.7" width="20" height="7.6"/><text class="m" x="121" y="508" textLength="17" lengthAdjust="spacingAndGlyphs">dev</text>
<rect class="cb" x="153" y="500.7" width="20" height="7.6"/><text class="m" x="163" y="508" textLength="17" lengthAdjust="spacingAndGlyphs">test</text>
<rect class="cb" x="194" y="500.7" width="20" height="7.6"/><text class="m" x="204" y="508" textLength="17" lengthAdjust="spacingAndGlyphs">dev</text>
<rect class="cb" x="250" y="500.7" width="20" height="7.6"/><text class="m" x="260" y="508" textLength="17" lengthAdjust="spacingAndGlyphs">test</text>
<rect class="cb" x="306" y="500.7" width="20" height="7.6"/><text class="m" x="316" y="508" textLength="17" lengthAdjust="spacingAndGlyphs">dev</text>
<rect class="cb" x="348" y="500.7" width="20" height="7.6"/><text class="m" x="358" y="508" textLength="17" lengthAdjust="spacingAndGlyphs">test</text>
<rect class="cb" x="36" y="515" width="38" height="7.3"/><text class="m" x="55" y="522" textLength="35" lengthAdjust="spacingAndGlyphs">CASIA</text>
<rect class="cb" x="17" y="530" width="76" height="8.3"/><text x="18" y="537.6" textLength="74" lengthAdjust="spacingAndGlyphs">Replay-Attack</text>
</g>
<g class="se m" font-size="10" fill="#b87682">
<rect class="pk" x="108" y="519.5" width="27" height="9.5" opacity=".6"/><text x="121" y="528.5">12.18</text>
<rect class="pk" x="150" y="511.5" width="26" height="9.5" opacity=".6"/><text x="163" y="520.5">43.30</text>
<rect class="pk" x="191" y="520.5" width="27" height="9.5" opacity=".6"/><text x="204.5" y="529.5">14.29</text>
<rect class="pk" x="247" y="511.5" width="28" height="9.5" opacity=".6"/><text x="261" y="520.5">42.04</text>
<rect class="pk" x="303" y="520.5" width="28" height="9.5" opacity=".6"/><text x="317" y="529.5">20.45</text>
<rect class="pk" x="346" y="511.5" width="27" height="9.5" opacity=".6"/><text x="359.5" y="520.5">45.92</text>
</g>
<rect class="wb" x="107" y="515" width="28" height="7.3" fill-opacity="0"/>
<rect class="wb" x="191" y="515" width="27" height="7.3" fill-opacity="0"/>
<rect class="wb" x="191" y="530" width="27" height="8.3"/>
<rect class="wb" x="303" y="515" width="28" height="7.3" fill-opacity="0"/>
<rect class="wb" x="306" y="530" width="25" height="8.3"/>
<g class="se" font-size="9" fill="#5e3a66">
<rect class="cb" x="150" y="530" width="26" height="8.3"/><text class="m" x="163" y="537.6" textLength="23" lengthAdjust="spacingAndGlyphs">24.12</text>
<rect class="cb" x="246" y="530" width="29" height="8.3"/><text class="m" x="260.5" y="537.6" textLength="25" lengthAdjust="spacingAndGlyphs">10.67</text>
<rect class="cb" x="344" y="530" width="29" height="8.3"/><text class="m" x="358.5" y="537.6" textLength="25" lengthAdjust="spacingAndGlyphs">10.12</text>
</g>
</g>

<!-- ===== (b) ICDAR2013 ===== -->
<g id="neg-icdar2013">
<path fill="none" stroke="#555" stroke-width="1.3" d="M396.7 386.7V545M469 386.7V545M699.3 386.7V545M396.7 399H805M396.7 465H805"/>
<path fill="none" stroke="#777" stroke-width="2.2" d="M579.3 386.7V545"/>
<path fill="none" stroke="#888" stroke-width="1" d="M396.7 530.7H805M396.7 532.7H805"/>
<g class="se" font-size="10.3" fill="#8a5a5a">
<rect class="cp" x="400" y="386.7" width="35.7" height="11"/><text class="bd" x="401" y="395.8" textLength="33" lengthAdjust="spacingAndGlyphs">Groups</text>
<rect class="cp" x="472.7" y="386.7" width="30.6" height="11"/><text class="bd" x="473.5" y="395.8" textLength="28.5" lengthAdjust="spacingAndGlyphs">Butter</text>
<rect class="cp" x="582.3" y="386.7" width="51" height="11"/><text class="bd" x="583" y="395.8" textLength="49" lengthAdjust="spacingAndGlyphs">Margarine</text>
<rect class="cp" x="702.7" y="386.7" width="82.3" height="11"/><text class="bd" x="703.5" y="395.8" textLength="80" lengthAdjust="spacingAndGlyphs">Low fat products</text>

<rect class="pk" x="400" y="399" width="52.3" height="14"/><rect class="op" x="400" y="399" width="52.3" height="12.7"/><text x="401" y="408.5" textLength="50" lengthAdjust="spacingAndGlyphs">Astra Calvé</text>
<rect class="cp" x="472.7" y="399" width="45" height="12"/><text class="i" x="473.5" y="408.5" textLength="43" lengthAdjust="spacingAndGlyphs">Total: 0%</text>
<rect class="pk" x="582.3" y="400" width="50" height="11.5"/><text class="i" x="583" y="408.5" textLength="47" lengthAdjust="spacingAndGlyphs">Total: 47%</text>
<rect class="pk" x="582.3" y="427.5" width="111" height="11.5"/><text x="583" y="436.5" textLength="94" lengthAdjust="spacingAndGlyphs">(Fruit d’or, Plantafin,</text>
<rect class="pk" x="582.3" y="440" width="111" height="11"/><text x="583" y="449" textLength="109" lengthAdjust="spacingAndGlyphs">Equilibre, Effi, Astra, ...)</text>
<rect class="op" x="582.3" y="399" width="111" height="52"/>
<rect class="pk" x="702.7" y="400" width="50" height="12"/><text class="i" x="703.5" y="409" textLength="47" lengthAdjust="spacingAndGlyphs">Total: 39%</text>
<rect class="pk" x="702.7" y="427.5" width="79" height="11.5"/><text x="703.5" y="436.5" textLength="76" lengthAdjust="spacingAndGlyphs">Fruit d’or (8.4%)</text>
<rect class="pk" x="702.7" y="440" width="52" height="11"/><text x="703.5" y="449">Effi (10.5%)</text>
<rect class="pk" x="702.7" y="452" width="79" height="11.5"/><text x="703.5" y="461" textLength="77" lengthAdjust="spacingAndGlyphs">Plantafin (20.1%)</text>
<rect class="op" x="702.7" y="399" width="79" height="64.3"/>

<rect class="cp" x="400" y="465.7" width="34.3" height="12.6"/><text x="401" y="475" textLength="32" lengthAdjust="spacingAndGlyphs">Besnier</text>
<rect class="pk" x="472.7" y="466" width="59" height="12"/><text class="i" x="473.5" y="475" textLength="57" lengthAdjust="spacingAndGlyphs">Total: 18.1%</text>
<rect class="pk" x="472.7" y="492" width="70" height="12"/><text x="473.5" y="501" textLength="68" lengthAdjust="spacingAndGlyphs">Bfpridel (4.4%)</text>
<rect class="pk" x="472.7" y="505" width="62" height="11.7"/><text x="473.5" y="513.8" textLength="79" lengthAdjust="spacingAndGlyphs">Président (13.5%)</text>
<rect class="op" x="472.7" y="465.7" width="80.6" height="51"/>
<rect class="cp" x="582.3" y="465.7" width="44.4" height="12.6"/><text class="i" x="583" y="475" textLength="42" lengthAdjust="spacingAndGlyphs">Total: 0%</text>
<rect class="pk" x="702.7" y="466" width="52" height="12"/><text class="i" x="703.5" y="475" textLength="50" lengthAdjust="spacingAndGlyphs">Total: 9.5%</text>
<rect class="pk" x="702.7" y="492" width="78" height="12"/><text x="703.5" y="501" textLength="76" lengthAdjust="spacingAndGlyphs">Bridélight (5.6%)</text>
<rect class="pk" x="702.7" y="505" width="72" height="11.7"/><text x="703.5" y="513.8" textLength="70" lengthAdjust="spacingAndGlyphs">Bridélice (3.2%)</text>
<rect class="pk" x="702.7" y="518" width="79" height="16"/><text x="703.5" y="526.5" textLength="74" lengthAdjust="spacingAndGlyphs">Président (0.7%)</text>
<rect class="op" x="702.7" y="465.7" width="78" height="64.3"/>

<rect class="cp" x="400" y="532.7" width="25.7" height="12.3"/><text x="401" y="541.8" textLength="24" lengthAdjust="spacingAndGlyphs">Cema</text>
<rect class="cp" x="582.3" y="532.7" width="77.7" height="12.3"/><text x="583" y="541.8" textLength="75" lengthAdjust="spacingAndGlyphs">Primevère (1.3%)</text>
</g>
</g>

<!-- ===== (b) IC19B2M ===== -->
<g id="neg-ic19b2m">
<path fill="none" stroke="#222" stroke-width="1.4" d="M1220 410H833.3V538.3H1220M926 410V538.3M833.3 445H1220"/>
<rect class="pk" x="834" y="416.7" width="74" height="18.3"/>
<g class="se" font-size="11" fill="#7a4a5a">
<text x="835" y="434" textLength="31" lengthAdjust="spacingAndGlyphs">From</text><rect class="ob" x="834.3" y="415" width="33" height="24"/>
<text x="895.5" y="424">To</text><rect class="ob" x="894.3" y="415" width="15.7" height="24"/>
<text class="m" x="949.7" y="424">0</text><rect class="ob" x="946.7" y="415" width="6" height="24"/>
<text class="m" x="1009.3" y="424">1</text><rect class="ob" x="1006" y="415" width="6.7" height="24"/>
<text class="m" x="1066.8" y="424">2</text><rect class="ob" x="1063" y="415" width="7.7" height="24"/>
<text class="m" x="1124.7" y="424">3</text><rect class="ob" x="1121" y="415" width="7.3" height="24"/>
<text class="m" x="1184.3" y="424">4</text><rect class="ob" x="1181" y="415" width="6.7" height="24"/>

<rect class="cb2" x="843.3" y="453.3" width="10" height="11.7"/><text class="m" x="848.3" y="462.8">0</text>
<rect class="cb2" x="843.3" y="468.3" width="10" height="12.4"/><text class="m" x="848.3" y="478.2">1</text>
<rect class="cb2" x="843.3" y="484.3" width="10" height="12.4"/><text class="m" x="848.3" y="494.2">2</text>
<rect class="cb2" x="843.3" y="500" width="10" height="12.3"/><text class="m" x="848.3" y="509.8">3</text>
<rect class="cb2" x="843.3" y="516" width="10" height="12.3"/><text class="m" x="848.3" y="525.8">4</text>

<rect class="cb2" x="996" y="452.7" width="46.3" height="14"/><text x="997" y="463.5" textLength="44" lengthAdjust="spacingAndGlyphs">(1,4,2,3)</text>
<rect class="cb2" x="1055.7" y="452.7" width="46" height="14"/><text x="1056.7" y="463.5" textLength="44" lengthAdjust="spacingAndGlyphs">(2,1,3,4)</text>
<rect class="cb2" x="1114.3" y="452.7" width="45.7" height="14"/><text x="1115.3" y="463.5" textLength="43.5" lengthAdjust="spacingAndGlyphs">(3,2,1,4)</text>
<rect class="cb2" x="1172.3" y="452.7" width="34.4" height="14"/><text x="1173.3" y="463.5" textLength="32.5" lengthAdjust="spacingAndGlyphs">(4,1,2)</text>

<rect class="cb2" x="936.7" y="468.3" width="45" height="13.4"/><text x="937.7" y="478.8" textLength="43" lengthAdjust="spacingAndGlyphs">(0,2,4,3)</text>
<rect class="cb2" x="1055.7" y="468.3" width="35.3" height="13.4"/><text x="1056.7" y="478.8" textLength="33.5" lengthAdjust="spacingAndGlyphs">(2,3,0)</text>
<rect class="cb2" x="1114.3" y="468.3" width="35" height="13.4"/><text x="1115.3" y="478.8" textLength="33" lengthAdjust="spacingAndGlyphs">(3,2,0)</text>
<rect class="cb2" x="1172.3" y="468.3" width="24.4" height="13.4"/><text x="1173.3" y="478.8" textLength="22.5" lengthAdjust="spacingAndGlyphs">(4,0)</text>

<rect class="cb2" x="936.7" y="484" width="35" height="13.3"/><text x="937.7" y="494.5" textLength="33" lengthAdjust="spacingAndGlyphs">(0,1,3)</text>
<rect class="cb2" x="996" y="484" width="35.7" height="13.3"/><text x="997" y="494.5" textLength="33.5" lengthAdjust="spacingAndGlyphs">(1,3,0)</text>
<rect class="cb2" x="1114.3" y="484" width="35" height="13.3"/><text x="1115.3" y="494.5" textLength="33" lengthAdjust="spacingAndGlyphs">(3,1,0)</text>
<rect class="cb2" x="1172.3" y="484" width="24.4" height="13.3"/><text x="1173.3" y="494.5" textLength="22.5" lengthAdjust="spacingAndGlyphs">(1,0)</text>

<rect class="cb2" x="936.7" y="500" width="35" height="13.3"/><text x="937.7" y="510.5" textLength="33" lengthAdjust="spacingAndGlyphs">(0,2,1)</text>
<rect class="cb2" x="996" y="500" width="35.7" height="13.3"/><text x="997" y="510.5" textLength="33.5" lengthAdjust="spacingAndGlyphs">(1,2,0)</text>
<rect class="cb2" x="1055.7" y="500" width="35.3" height="13.3"/><text x="1056.7" y="510.5" textLength="33.5" lengthAdjust="spacingAndGlyphs">(2,1,0)</text>
<rect class="cb2" x="1172.3" y="500" width="34.4" height="13.3"/><text x="1173.3" y="510.5" textLength="32.5" lengthAdjust="spacingAndGlyphs">(2,0,1)</text>

<rect class="cb2" x="936.7" y="515.7" width="26" height="13.3"/><text x="937.7" y="526.2" textLength="24" lengthAdjust="spacingAndGlyphs">(0,1)</text>
<rect class="cb2" x="996" y="515.7" width="25.7" height="13.3"/><text x="997" y="526.2" textLength="23.5" lengthAdjust="spacingAndGlyphs">(1,0)</text>
<rect class="cb2" x="1055.7" y="515.7" width="25.3" height="13.3"/><text x="1056.7" y="526.2" textLength="23.5" lengthAdjust="spacingAndGlyphs">(1,0)</text>
<rect class="cb2" x="1114.3" y="515.7" width="25.7" height="13.3"/><text x="1115.3" y="526.2" textLength="23.5" lengthAdjust="spacingAndGlyphs">(1,0)</text>
</g>
</g>

<!-- ===== (b) FinTabNet ===== -->
<g id="neg-fintabnet">
<path fill="none" stroke="#888" stroke-width="1" d="M280 622.7H383M280 676.7H383"/>
<path fill="none" stroke="#777" stroke-width="1.6" d="M280 697.7H383"/>
<g class="sa" font-size="6.2" fill="#b5697a">
<rect class="cf" x="292.7" y="615.7" width="14" height="6.6"/><text class="m" x="299.7" y="621.3" textLength="12" lengthAdjust="spacingAndGlyphs">2006</text>
<rect class="cf" x="331.7" y="615.7" width="13.3" height="6.6"/><text class="m" x="338.3" y="621.3" textLength="12" lengthAdjust="spacingAndGlyphs">2005</text>
<rect class="cf" x="369.3" y="615.7" width="14" height="6.6"/><text class="m" x="376.3" y="621.3" textLength="12" lengthAdjust="spacingAndGlyphs">2004</text>
<rect class="cf" x="9.3" y="626.7" width="37.4" height="7.6"/><text x="10" y="632.8" textLength="36" lengthAdjust="spacingAndGlyphs">Net earnings</text>
<rect class="cf" x="286.7" y="626.7" width="20" height="7.6"/><text x="287.3" y="632.8" textLength="18.8" lengthAdjust="spacingAndGlyphs">$777.2</text>
<rect class="cf" x="325" y="626.7" width="20" height="7.6"/><text x="325.6" y="632.8" textLength="18.8" lengthAdjust="spacingAndGlyphs">$643.6</text>
<rect class="cf" x="362.7" y="626.7" width="20.6" height="7.6"/><text x="363.3" y="632.8" textLength="19.4" lengthAdjust="spacingAndGlyphs">$440.0</text>
<rect class="cf" x="9.3" y="647.3" width="133" height="18.7"/><text x="10" y="653.6" textLength="131.5" lengthAdjust="spacingAndGlyphs">Weighted–average shares outstanding for basic</text><text x="18.8" y="663.8" textLength="63" lengthAdjust="spacingAndGlyphs">net earnings per share</text>
<rect class="cf" x="290" y="658" width="16.7" height="7.5"/><text x="290.6" y="664" textLength="15.5" lengthAdjust="spacingAndGlyphs">406.5</text>
<rect class="cf" x="329" y="658" width="16" height="7.5"/><text x="329.6" y="664" textLength="14.8" lengthAdjust="spacingAndGlyphs">403.7</text>
<rect class="cf" x="366.7" y="658" width="16.6" height="7.5"/><text x="367.3" y="664" textLength="15.4" lengthAdjust="spacingAndGlyphs">401.2</text>
<rect class="cf" x="9.3" y="669" width="117.4" height="7.7"/><text x="10" y="675.2" textLength="116" lengthAdjust="spacingAndGlyphs">Effect of dilutive employee stock options</text>
<rect class="cf" x="297.7" y="669" width="9" height="7.2"/><text x="298.2" y="675" textLength="8" lengthAdjust="spacingAndGlyphs">5.3</text>
<rect class="cf" x="337.3" y="669" width="7.7" height="7.2"/><text x="337.8" y="675" textLength="6.7" lengthAdjust="spacingAndGlyphs">7.1</text>
<rect class="cf" x="375" y="669" width="8.3" height="7.2"/><text x="375.5" y="675" textLength="7.3" lengthAdjust="spacingAndGlyphs">8.1</text>
<rect class="cf" x="9.3" y="679.3" width="134" height="19.4"/><text x="10" y="685.6" textLength="132" lengthAdjust="spacingAndGlyphs">Adjusted weighted–average shares outstanding</text><text x="18.8" y="696" textLength="95" lengthAdjust="spacingAndGlyphs">for diluted net earnings per share</text>
<rect class="cf" x="290" y="690" width="16.7" height="7.5"/><text x="290.6" y="696" textLength="15.5" lengthAdjust="spacingAndGlyphs">411.8</text>
<rect class="cf" x="329" y="690" width="16" height="7.5"/><text x="329.6" y="696" textLength="14.8" lengthAdjust="spacingAndGlyphs">410.8</text>
<rect class="cf" x="366.7" y="690" width="16.6" height="7.5"/><text x="367.3" y="696" textLength="15.4" lengthAdjust="spacingAndGlyphs">409.3</text>
<rect class="cf" x="9.3" y="711.7" width="118" height="7.6"/><text x="10" y="717.8" textLength="116.5" lengthAdjust="spacingAndGlyphs">Net earnings per share of common stock:</text>
<rect class="cf" x="18.3" y="722.3" width="15.7" height="7.7"/><text x="19" y="728.4" textLength="14.3" lengthAdjust="spacingAndGlyphs">Basic</text>
<rect class="cf" x="286.7" y="722.3" width="20" height="7.7"/><text x="287.3" y="728.4" textLength="18.8" lengthAdjust="spacingAndGlyphs">$ 1.91</text>
<rect class="cf" x="325" y="722.3" width="20" height="7.7"/><text x="325.6" y="728.4" textLength="18.8" lengthAdjust="spacingAndGlyphs">$ 1.59</text>
<rect class="cf" x="362.7" y="722.3" width="20.6" height="7.7"/><text x="363.3" y="728.4" textLength="19.4" lengthAdjust="spacingAndGlyphs">$ 1.10</text>
<rect class="cf" x="18.3" y="732.7" width="22.4" height="7.6"/><text x="19" y="738.8" textLength="21" lengthAdjust="spacingAndGlyphs">Diluted</text>
<rect class="cf" x="286.7" y="732.7" width="20" height="7.6"/><text x="287.3" y="738.8" textLength="18.8" lengthAdjust="spacingAndGlyphs">$ 1.89</text>
<rect class="cf" x="325" y="732.7" width="20" height="7.6"/><text x="325.6" y="738.8" textLength="18.8" lengthAdjust="spacingAndGlyphs">$ 1.57</text>
<rect class="cf" x="362.7" y="732.7" width="20.6" height="7.6"/><text x="363.3" y="738.8" textLength="19.4" lengthAdjust="spacingAndGlyphs">$ 1.08</text>
</g>
</g>

<!-- ===== (b) PubTabNet ===== -->
<g id="neg-pubtabnet">
<rect x="451.7" y="600" width="281.6" height="2" fill="#e2e2e2"/>
<rect x="451.7" y="656" width="281.6" height="35.7" fill="#b5c3e8"/>
<rect x="451.7" y="721.7" width="281.6" height="33.3" fill="#b5c3e8"/>
<path fill="none" stroke="#333" stroke-width="1.2" d="M576.7 602.3H733.3M576.7 630.7H733.3M451.7 656H733.3"/>
<g class="sa" font-size="9.3" fill="#8a5a5a">
<rect class="cb2" x="452.7" y="604" width="115" height="51" style="stroke-width:2.6"/>
<text class="bd" x="455" y="613.6" textLength="92" lengthAdjust="spacingAndGlyphs">Effect of the median</text>
<text class="bd" x="455" y="626.2" textLength="85" lengthAdjust="spacingAndGlyphs">number of types of</text>
<text class="bd" x="455" y="637.8" textLength="111" lengthAdjust="spacingAndGlyphs">care missed on patient</text>
<text class="bd" x="455" y="650.2" textLength="45" lengthAdjust="spacingAndGlyphs">outcomes</text>
<rect class="cb2" x="577.7" y="604" width="50.6" height="25" style="stroke-width:2.6"/>
<text class="bd" x="580" y="613.6" textLength="20" lengthAdjust="spacingAndGlyphs">ORs</text>
<text class="bd" x="580" y="626.2" textLength="46" lengthAdjust="spacingAndGlyphs">(95% CIs)</text>
<rect class="cb2" x="577.7" y="640" width="61.3" height="15" style="stroke-width:2.6"/><text class="bd" x="580" y="650.8" textLength="57" lengthAdjust="spacingAndGlyphs">Unadjusted</text>
<rect class="cb2" x="660" y="640" width="48.3" height="15" style="stroke-width:2.6"/><text class="bd" x="662" y="650.8" textLength="44" lengthAdjust="spacingAndGlyphs">Adjusted</text>

<rect class="cb2" x="452.7" y="660" width="90" height="13.3" style="stroke-width:2.6"/><text x="455" y="670.2" textLength="86" lengthAdjust="spacingAndGlyphs">Rate care excellent</text>
<rect class="pk" x="578" y="661" width="28" height="11.5"/><text x="579" y="669.5" textLength="26" lengthAdjust="spacingAndGlyphs">0.79***</text>
<rect class="pk" x="578" y="676" width="63.5" height="11.5"/><text x="579" y="685" textLength="61.5" lengthAdjust="spacingAndGlyphs">(0.69 to 0.90)</text>
<rect class="ob" x="577.7" y="660" width="64" height="28.3" style="stroke-width:2.6"/>
<rect class="pk" x="661" y="661" width="29" height="11.5"/><text x="662" y="669.5" textLength="26" lengthAdjust="spacingAndGlyphs">0.78***</text>
<rect class="pk" x="661" y="676" width="63.5" height="11.5"/><text x="662" y="685" textLength="61.5" lengthAdjust="spacingAndGlyphs">(0.68 to 0.90)</text>
<rect class="ob" x="660" y="660" width="65" height="28.3" style="stroke-width:2.6"/>

<rect class="cb2" x="452.7" y="691.7" width="120" height="25" style="stroke-width:2.6"/><text x="455" y="701.7" textLength="116" lengthAdjust="spacingAndGlyphs">Did not want to complain</text><text x="455" y="713.3" textLength="49" lengthAdjust="spacingAndGlyphs">about care</text>
<rect class="pk" x="578" y="693" width="22" height="11.5"/><text x="579" y="702" textLength="19" lengthAdjust="spacingAndGlyphs">0.92</text>
<rect class="pk" x="578" y="710" width="63.5" height="11.3"/><text x="579" y="718.7" textLength="61.5" lengthAdjust="spacingAndGlyphs">(0.76 to 1.12)</text>
<rect class="ob" x="577.7" y="691.7" width="64" height="30" style="stroke-width:2.6"/>
<rect class="pk" x="661" y="693" width="22" height="11.5"/><text x="662" y="702" textLength="19" lengthAdjust="spacingAndGlyphs">0.92</text>
<rect class="pk" x="661" y="710" width="63.5" height="11.3"/><text x="662" y="718.7" textLength="61.5" lengthAdjust="spacingAndGlyphs">(0.77 to 1.11)</text>
<rect class="ob" x="660" y="691.7" width="65" height="30" style="stroke-width:2.6"/>

<rect x="452.7" y="726" width="109" height="24" fill="#dcaab8" stroke="#3434e0" stroke-width="2.6"/><text x="455" y="735.6" textLength="105" lengthAdjust="spacingAndGlyphs">Always felt treated with</text><text x="455" y="747.6" textLength="85" lengthAdjust="spacingAndGlyphs">respect and dignity</text>
<rect x="578" y="727" width="22" height="10.5" fill="#dcaab8"/><text x="579" y="735" textLength="19" lengthAdjust="spacingAndGlyphs">0.89</text>
<rect x="578" y="743.5" width="63.5" height="11" fill="#dcaab8"/><text x="579" y="752" textLength="61.5" lengthAdjust="spacingAndGlyphs">(0.78 to 1.02)</text>
<rect class="ob" x="577.7" y="726" width="64" height="29" style="stroke-width:2.6"/>
<rect x="661" y="727" width="22" height="10.5" fill="#dcaab8"/><text x="662" y="735" textLength="19" lengthAdjust="spacingAndGlyphs">0.92</text>
<rect x="661" y="743.5" width="63.5" height="11" fill="#dcaab8"/><text x="662" y="752" textLength="61.5" lengthAdjust="spacingAndGlyphs">(0.81 to 1.06)</text>
<rect class="ob" x="660" y="726" width="65" height="29" style="stroke-width:2.6"/>
</g>
</g>

<!-- ===== (b) PubTables-1M ===== -->
<g id="neg-pubtables1m">
<text class="se" x="863.3" y="598" font-size="8.2" fill="#222" textLength="331" lengthAdjust="spacingAndGlyphs"><tspan font-weight="bold">Table 2.</tspan> Essential Components for Combined Use of CED and Liposomes in Neurooncology.</text>
<path fill="none" stroke="#999" stroke-width="1" d="M841.7 604.3H1215M841.7 616H1215M841.7 693.3H1215M841.7 749.3H1215M921.7 604.3V749.3"/>
<g class="se" font-size="7" fill="#8a5a5a">
<rect class="cb2" x="849.3" y="606" width="63.4" height="10"/><text class="bd" x="850.3" y="613.8" textLength="61" lengthAdjust="spacingAndGlyphs">Treatment Modality</text>
<rect class="cb2" x="1032.7" y="606" width="69.6" height="10"/><text class="bd" x="1033.7" y="613.8" textLength="67" lengthAdjust="spacingAndGlyphs">Essential Components</text>
<rect class="cb2" x="874" y="617.3" width="14.3" height="10"/><text x="875" y="625" textLength="12.5" lengthAdjust="spacingAndGlyphs">CED</text>

<rect class="pk" x="924.3" y="618.2" width="245.7" height="9"/><text x="924.8" y="625.2" textLength="244" lengthAdjust="spacingAndGlyphs">Thorough understanding and implementation of parameters to optimize convection.</text>
<rect class="pk" x="935" y="628.8" width="68" height="9"/><text x="935.5" y="635.8" textLength="67" lengthAdjust="spacingAndGlyphs">Cannula size and shape</text>
<rect class="pk" x="935" y="640.5" width="56" height="9"/><text x="935.5" y="647.5" textLength="55" lengthAdjust="spacingAndGlyphs">Infusion flow rates</text>
<rect class="pk" x="935" y="651.5" width="76.7" height="9"/><text x="935.5" y="658.5" textLength="75.5" lengthAdjust="spacingAndGlyphs">Specific infusion volumes</text>
<rect class="pk" x="924.3" y="662.8" width="260.7" height="9"/><text x="924.8" y="669.8" textLength="259.5" lengthAdjust="spacingAndGlyphs">Safe use of contrast agents (free <tspan font-style="italic">vs.</tspan> liposomal) to visualize the CED process (e.g., RCD).</text>
<rect class="pk" x="935" y="673.8" width="70" height="9"/><text x="935.5" y="680.8" textLength="69" lengthAdjust="spacingAndGlyphs">Avoid reflux or leakage</text>
<rect class="pk" x="935" y="684.5" width="136" height="9"/><text x="935.5" y="691.5" textLength="134" lengthAdjust="spacingAndGlyphs">Document Vd, and specific coverage of tumor</text>
<rect class="ob" x="924.3" y="616.7" width="261.4" height="76.6"/>

<rect class="cb2" x="865" y="695" width="31.7" height="10"/><text x="866" y="702.7" textLength="29.5" lengthAdjust="spacingAndGlyphs">Liposomes</text>
<rect class="pk" x="924.3" y="695.5" width="212.4" height="9"/><text x="924.8" y="702.5" textLength="211" lengthAdjust="spacingAndGlyphs">Effective use of liposomal technology for improved formulation of LTs.</text>
<rect class="pk" x="924.3" y="707.2" width="237.4" height="9"/><text x="924.8" y="714.2" textLength="236" lengthAdjust="spacingAndGlyphs">Improved understanding of the cellular processing of LTs based on particle size.</text>
<rect class="pk" x="935" y="718.8" width="273" height="9"/><text x="935.5" y="725.8" textLength="272" lengthAdjust="spacingAndGlyphs">Effective use of lysosomal or non-lysosomal pathways based on delivered  therapeutic agent</text>
<rect class="pk" x="935" y="729.5" width="215" height="9"/><text x="935.5" y="736.5" textLength="213.5" lengthAdjust="spacingAndGlyphs">Better appreciation of ultrasound-induced release dynamics and efficacy.</text>
<rect class="pk" x="924.3" y="739.8" width="175.7" height="9"/><text x="924.8" y="746.8" textLength="174.5" lengthAdjust="spacingAndGlyphs">Effective tumor-specific targeting based on surface ligands.</text>
<rect class="ob" x="924.3" y="694.3" width="284.7" height="54"/>
</g>
<text class="se bd" x="846.7" y="769.3" font-size="7.5" fill="#222">Acknowledgements</text>
</g>

<!-- ===== labels and captions ===== -->
<g id="labels">
<text class="lab" x="188.7" y="139">SciTSR</text>
<text class="lab" x="598.3" y="139">ICDAR2013</text>
<text class="lab" x="1023.3" y="139">IC19B2M</text>
<text class="lab" x="188.3" y="338">FinTabNet</text>
<text class="lab" x="598.3" y="338">PubTabNet</text>
<text class="lab" x="1023.3" y="338">PubTables-1M</text>
<text class="cap" x="610" y="360">(a) Positive samples</text>
<text class="lab" x="196.7" y="567">SciTSR</text>
<text class="lab" x="606.7" y="564">ICDAR2013</text>
<text class="lab" x="1031.7" y="565">IC19B2M</text>
<text class="lab" x="198.3" y="790">FinTabNet</text>
<text class="lab" x="606.7" y="790">PubTabNet</text>
<text class="lab" x="1031.7" y="791">PubTables-1M</text>
<text class="cap" x="610" y="820">(b) Negative samples</text>
</g>
</svg>
